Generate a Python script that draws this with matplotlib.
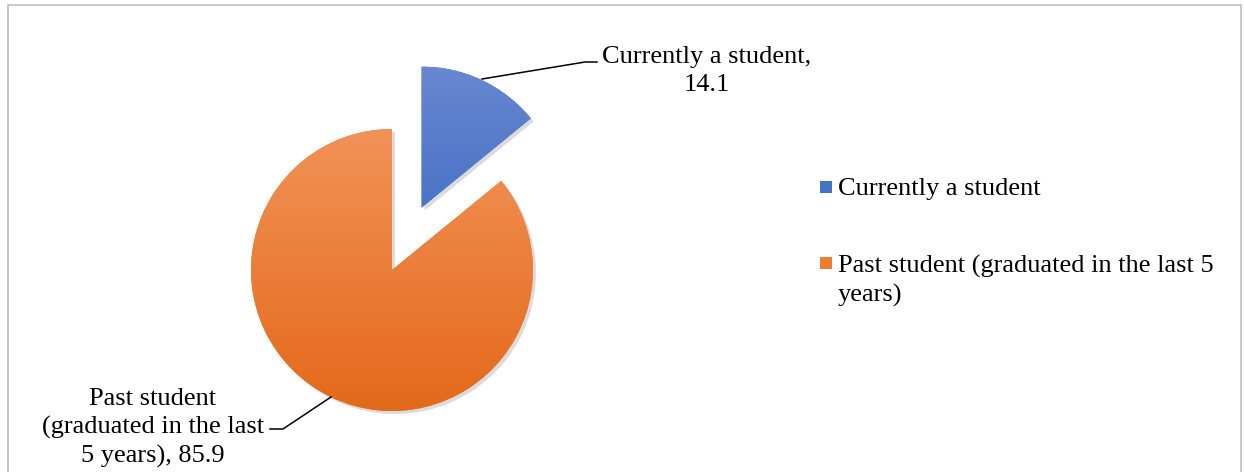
import numpy as np
import matplotlib
matplotlib.use("Agg")
import matplotlib.pyplot as plt
from matplotlib.patches import Rectangle, Wedge
from matplotlib.colors import LinearSegmentedColormap

# data
categories = ["Currently a student", "Past student (graduated in the last 5 years)"]
values = [14.1, 85.9]
slice_labels = ["Currently a student,\n14.1", "Past student\n(graduated in the last\n5 years), 85.9"]
legend_labels = ["Currently a student", "Past student (graduated in the last 5\nyears)"]
colors = ["#4472C4", "#ED7D31"]
grad_top = ["#6787D0", "#F29257"]
grad_bot = ["#2F5EBE", "#E3691A"]

plt.rcParams['font.family'] = ['Liberation Serif', 'DejaVu Serif']

W, H = 1244, 472
fig = plt.figure(figsize=(W / 100, H / 100), dpi=100)
ax = fig.add_axes([0, 0, 1, 1])

cx, cy, r = 392, H - 270, 141
# explode is in data units here (pie does not scale it by radius)
wedges, _ = ax.pie(values, colors=colors, startangle=90, counterclock=False,
                   explode=[0.49 * r, 0], center=(cx, cy), radius=r, frame=True)

# soft shadow + vertical gradient inside each wedge
for i, w in enumerate(wedges):
    x0, y0 = w.center
    sh = Wedge((x0 + 3, y0 - 3), w.r, w.theta1, w.theta2, color='#9a9a9a',
               alpha=0.35, zorder=0.5, lw=0)
    ax.add_patch(sh)
    cmap = LinearSegmentedColormap.from_list(f"g{i}", [grad_bot[i], grad_top[i]])
    grad = np.linspace(0, 1, 256).reshape(-1, 1)
    im = ax.imshow(grad, cmap=cmap, origin='lower', aspect='auto',
                   extent=[x0 - w.r, x0 + w.r, y0 - w.r, y0 + w.r], zorder=2)
    im.set_clip_path(w)
    w.set_zorder(1)

ax.set_xlim(0, W)
ax.set_ylim(0, H)
ax.set_aspect('equal')
ax.axis('off')

fs = 19
ls = 1.36
# data labels with leader lines
ax.text(707, H - 71, slice_labels[0], ha='center', va='center', fontsize=fs,
        linespacing=ls, color='black')
ax.plot([482, 585, 597], [H - 79, H - 62, H - 62], color='black', lw=1.1, zorder=3)

ax.text(153, H - 428, slice_labels[1], ha='center', va='center', fontsize=fs,
        linespacing=ls, color='black')
ax.plot([270, 283, 331], [H - 429, H - 429, H - 397], color='black', lw=1.1, zorder=3)

# legend
ax.add_patch(Rectangle((820, H - 187 - 6), 12, 12, color=colors[0], lw=0))
ax.text(838, H - 189, legend_labels[0], ha='left', va='center', fontsize=fs, color='black')
ax.add_patch(Rectangle((820, H - 263 - 6), 12, 12, color=colors[1], lw=0))
ax.text(838, H - 281, legend_labels[1], ha='left', va='center', fontsize=fs,
        linespacing=ls, color='black')

# chart border
ax.add_patch(Rectangle((8, -10), 1233, H - 5 + 10, fill=False,
                       edgecolor='#BFBFBF', lw=1.2))

fig.savefig("out.png", dpi=100, facecolor='white')
